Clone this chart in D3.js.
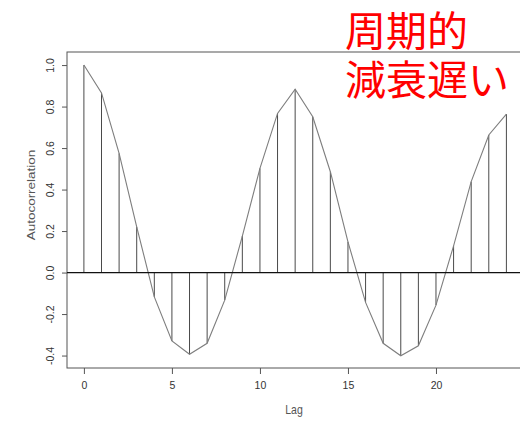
<!DOCTYPE html>
<html>
<head>
<meta charset="utf-8">
<script src="https://cdn.jsdelivr.net/npm/d3@7"></script>
<style>
  html, body { margin: 0; padding: 0; background: #fff; }
  svg { display: block; }
</style>
</head>
<body>
<svg id="chart" width="520" height="422"></svg>
<script>
// Sample autocorrelation by lag
const lags = [0, 1, 2, 3, 4, 5, 6, 7, 8, 9, 10, 11, 12, 13, 14, 15, 16, 17, 18, 19, 20, 21, 22, 23, 24];
const acfValues = [1.000, 0.866, 0.574, 0.220, -0.117, -0.330, -0.394, -0.341, -0.133,
                   0.176, 0.502, 0.767, 0.884, 0.751, 0.486, 0.148, -0.144, -0.341,
                   -0.401, -0.353, -0.157, 0.129, 0.438, 0.663, 0.764];
const xTicks = [0, 5, 10, 15, 20];
const yTicks = [-0.4, -0.2, 0.0, 0.2, 0.4, 0.6, 0.8, 1.0];
const titleLines = ["周期的", "減衰遅い"];

const svg = d3.select("#chart");
const font = "'Liberation Sans', Arial, sans-serif";

// plot region (right edge runs slightly past the window)
const plotLeft = 67, plotRight = 523.3, plotTop = 52, plotBottom = 368;

const x = d3.scaleLinear().domain([-0.96, 24.96]).range([plotLeft, plotRight]);
const y = d3.scaleLinear().domain([-0.46, 1.063]).range([plotBottom, plotTop]);

const data = lags.map((l, i) => ({ lag: l, r: acfValues[i] }));

// frame
svg.append("rect")
  .attr("x", plotLeft).attr("y", plotTop)
  .attr("width", plotRight - plotLeft).attr("height", plotBottom - plotTop)
  .attr("fill", "none").attr("stroke", "#555").attr("stroke-width", 1);

// vertical lag sticks
svg.append("g").selectAll("line")
  .data(data).join("line")
  .attr("x1", d => x(d.lag)).attr("x2", d => x(d.lag))
  .attr("y1", y(0)).attr("y2", d => y(d.r))
  .attr("stroke", "#4a4a4a").attr("stroke-width", 1);

// polyline through the stick tops
svg.append("path")
  .datum(data)
  .attr("fill", "none")
  .attr("stroke", "#7e7e7e")
  .attr("stroke-width", 1.1)
  .attr("d", d3.line().x(d => x(d.lag)).y(d => y(d.r)));

// zero reference line
svg.append("line")
  .attr("x1", plotLeft).attr("x2", plotRight)
  .attr("y1", y(0)).attr("y2", y(0))
  .attr("stroke", "#111").attr("stroke-width", 1.3);

// x axis
const xAxis = svg.append("g")
  .attr("transform", `translate(0,${plotBottom})`)
  .call(d3.axisBottom(x).tickValues(xTicks).tickSize(6).tickPadding(8).tickFormat(d3.format("d")));
xAxis.select(".domain").remove();
xAxis.selectAll(".tick line").attr("stroke", "#555");
xAxis.selectAll(".tick text").attr("font-family", font).attr("font-size", 10.5).attr("fill", "#333");

// y axis with rotated labels
const yAxis = svg.append("g")
  .attr("transform", `translate(${plotLeft},0)`)
  .call(d3.axisLeft(y).tickValues(yTicks).tickSize(5).tickFormat(d3.format(".1f")));
yAxis.select(".domain").remove();
yAxis.selectAll(".tick line").attr("stroke", "#555");
yAxis.selectAll(".tick text")
  .attr("font-family", font).attr("font-size", 10.5).attr("fill", "#333")
  .attr("x", null).attr("dy", null)
  .attr("text-anchor", "middle")
  .attr("dominant-baseline", "central")
  .attr("transform", "translate(-17,0) rotate(-90)")
  .text(d => d3.format(".1f")(d).replace("−", "-"));

// axis titles
svg.append("text")
  .attr("transform", `translate(294,410) scale(1,1.3)`)
  .attr("text-anchor", "middle").attr("dominant-baseline", "central")
  .attr("font-family", font).attr("font-size", 10.5).attr("fill", "#555")
  .text("Lag");

svg.append("text")
  .attr("transform", `translate(32,195) rotate(-90) scale(1.35,1)`)
  .attr("text-anchor", "middle").attr("dominant-baseline", "central")
  .attr("font-family", font).attr("font-size", 10).attr("fill", "#555")
  .text("Autocorrelation");

// red annotation
svg.append("g").selectAll("text")
  .data(titleLines).join("text")
  .attr("x", 345)
  .attr("y", (d, i) => 28 + i * 49)
  .attr("dominant-baseline", "central")
  .attr("font-family", "'Noto Sans CJK JP', sans-serif")
  .attr("font-size", 41)
  .attr("fill", "#ff0000")
  .text(d => d);
</script>
</body>
</html>
